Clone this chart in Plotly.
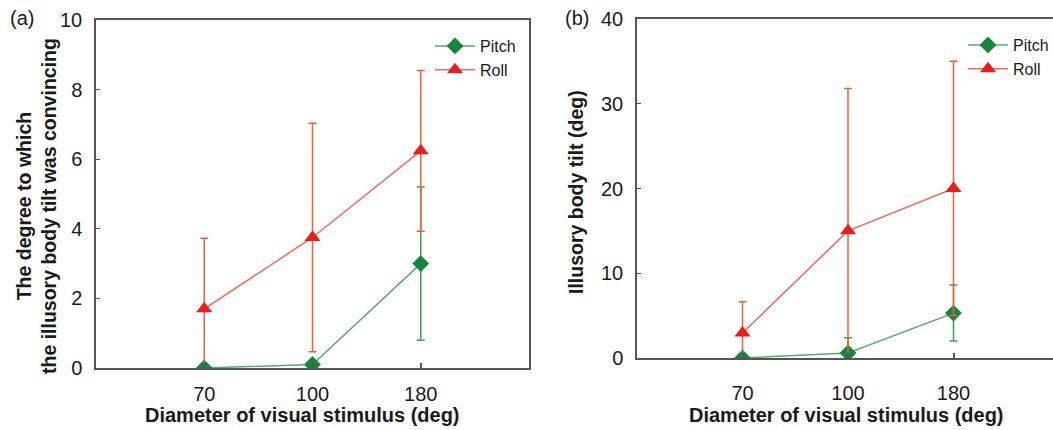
import plotly.graph_objects as go

# Stimulus diameters (deg) shown as evenly spaced categories
diameters = ["70", "100", "180"]
positions = [1, 2, 3]

# (a) rated convincingness of the illusory body tilt
conv_pitch = [0.0, 0.1, 3.0]
conv_pitch_err = [0.0, 0.0, 2.2]
conv_roll = [1.7, 3.75, 6.24]
conv_roll_err = [2.03, 3.28, 2.31]

# (b) illusory body tilt (deg)
tilt_pitch = [0.0, 0.6, 5.3]
tilt_pitch_err = [0.0, 1.8, 3.3]
tilt_roll = [2.95, 15.0, 20.0]
tilt_roll_err = [3.7, 16.8, 15.0]

W, H = 1053, 430
FONT = "Liberation Sans, Arial, sans-serif"
FRAME = "#555555"

PITCH_MARK = "#16873a"
PITCH_LINE = "#5aab68"
PITCH_ERR = "#4b9a58"
ROLL_MARK = "#ee1b1b"
ROLL_LINE = "#f06a60"
ROLL_ERR = "#e8613f"


def px_x(v):
    return v / W


def px_y(v):
    return 1 - v / H


fig = go.Figure()


def add_panel(xa, ya, legend, pitch, pitch_err, roll, roll_err):
    fig.add_trace(go.Scatter(
        x=positions, y=pitch, xaxis=xa, yaxis=ya, name="Pitch", legend=legend,
        mode="lines+markers",
        line=dict(color=PITCH_LINE, width=1.5),
        marker=dict(symbol="diamond", size=13, color=PITCH_MARK),
        error_y=dict(type="data", array=pitch_err, visible=True,
                     color=PITCH_ERR, thickness=1.5, width=4),
    ))
    fig.add_trace(go.Scatter(
        x=positions, y=roll, xaxis=xa, yaxis=ya, name="Roll", legend=legend,
        mode="lines+markers",
        line=dict(color=ROLL_LINE, width=1.5),
        marker=dict(symbol="triangle-up", size=14, color=ROLL_MARK),
        error_y=dict(type="data", array=roll_err, visible=True,
                     color=ROLL_ERR, thickness=1.5, width=4),
    ))


add_panel("x", "y", "legend", conv_pitch, conv_pitch_err, conv_roll, conv_roll_err)
add_panel("x2", "y2", "legend2", tilt_pitch, tilt_pitch_err, tilt_roll, tilt_roll_err)

tick_font = dict(family=FONT, size=20, color="#1a1a1a")

xcommon = dict(
    tickmode="array", tickvals=positions, ticktext=diameters,
    ticks="inside", ticklen=5, tickwidth=1.5, tickcolor=FRAME,
    showline=True, linecolor=FRAME, linewidth=1.5, mirror=True,
    showgrid=False, zeroline=False, tickfont=tick_font,
    automargin=False,
)
ycommon = dict(
    ticks="inside", ticklen=4, tickwidth=1.2, tickcolor=FRAME,
    showline=True, linecolor=FRAME, linewidth=1.5,
    showgrid=False, zeroline=False, tickfont=tick_font,
    ticklabelstandoff=8, automargin=False,
)

legend_font = dict(family=FONT, size=16, color="#1a1a1a")

fig.update_layout(
    width=W, height=H,
    margin=dict(l=0, r=0, t=0, b=0, autoexpand=False),
    paper_bgcolor="white", plot_bgcolor="white",
    font=dict(family=FONT, color="#1a1a1a"),
    xaxis=dict(domain=[px_x(96), px_x(529)], range=[0, 4], anchor="y",
               ticklabelstandoff=7, **xcommon),
    yaxis=dict(domain=[px_y(368), px_y(20)], range=[0, 10], dtick=2,
               anchor="x", mirror=True, **ycommon),
    xaxis2=dict(domain=[px_x(637), 1], range=[0, 416 / 105.5], anchor="y2",
                ticklabelstandoff=16, **xcommon),
    yaxis2=dict(domain=[px_y(358), px_y(19)], range=[0, 40], dtick=10,
                anchor="x2", mirror=False, **ycommon),
    legend=dict(x=px_x(430), y=px_y(29), xanchor="left", yanchor="top",
                bgcolor="rgba(0,0,0,0)", font=legend_font,
                itemwidth=40, tracegroupgap=0),
    legend2=dict(x=px_x(963), y=px_y(28), xanchor="left", yanchor="top",
                 bgcolor="rgba(0,0,0,0)", font=legend_font,
                 itemwidth=40, tracegroupgap=0),
    showlegend=True,
)

x_title_font = dict(family=FONT, size=20, color="#1a1a1a")
y_title_font = dict(family=FONT, size=19.5, color="#1a1a1a")
annotations = [
    dict(text="(a)", x=px_x(22), y=px_y(18), font=dict(family=FONT, size=20)),
    dict(text="(b)", x=px_x(577), y=px_y(18), font=dict(family=FONT, size=20)),
    dict(text="<b>Diameter of visual stimulus (deg)</b>", x=px_x(302), y=px_y(415),
         font=x_title_font),
    dict(text="<b>Diameter of visual stimulus (deg)</b>", x=px_x(846), y=px_y(415),
         font=x_title_font),
    dict(text="<b>The degree to which<br>the illusory body tilt was convincing</b>",
         x=px_x(36), y=px_y(206), textangle=-90, font=y_title_font),
    dict(text="<b>Illusory body tilt (deg)</b>", x=px_x(576), y=px_y(192),
         textangle=-90, font=y_title_font),
]
for a in annotations:
    fig.add_annotation(xref="paper", yref="paper", showarrow=False,
                       xanchor="center", yanchor="middle", **a)

fig.write_html("out.html")
